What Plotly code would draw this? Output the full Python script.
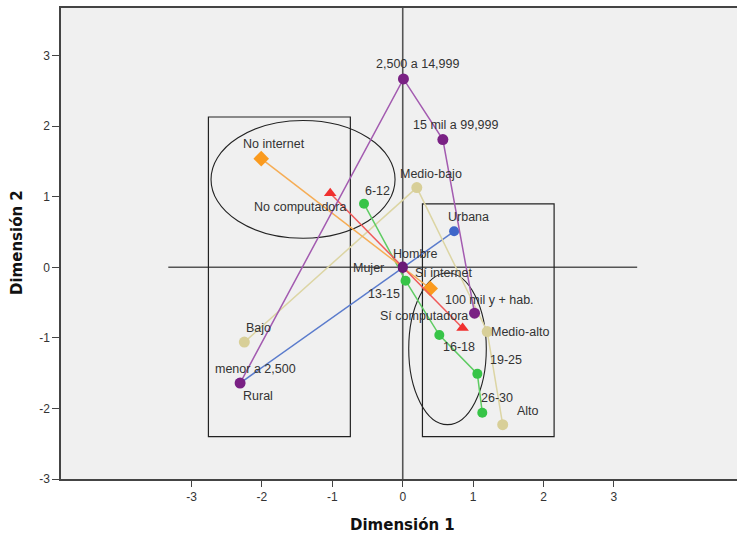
import plotly.graph_objects as go

# ---- Data (Dimension 1, Dimension 2) ----
pob_labels = ["menor a 2,500", "2,500 a 14,999", "15 mil a 99,999", "100 mil y + hab."]
pob_d1 = [-2.31, 0.01, 0.57, 1.02]
pob_d2 = [-1.64, 2.67, 1.81, -0.65]

loc_labels = ["Urbana", "Rural"]
loc_d1 = [0.73, -2.31]
loc_d2 = [0.51, -1.64]

nse_labels = ["Bajo", "Medio-bajo", "Medio-alto", "Alto"]
nse_d1 = [-2.25, 0.20, 1.20, 1.42]
nse_d2 = [-1.06, 1.13, -0.91, -2.23]

edad_labels = ["6-12", "13-15", "16-18", "19-25", "26-30"]
edad_d1 = [-0.55, 0.04, 0.52, 1.06, 1.13]
edad_d2 = [0.90, -0.19, -0.96, -1.51, -2.06]

int_labels = ["No internet", "Sí internet"]
int_d1 = [-2.01, 0.39]
int_d2 = [1.54, -0.30]

comp_labels = ["No computadora", "Sí computadora"]
comp_d1 = [-1.03, 0.85]
comp_d2 = [1.05, -0.86]

sexo_labels = ["Hombre", "Mujer"]
sexo_d1 = [0.0, 0.0]
sexo_d2 = [0.01, -0.01]

x_ticks = [-3, -2, -1, 0, 1, 2, 3]
x_ticktext = ["-3", "-2", "-1", "0", "1", "2", "3"]
y_ticks = [-3, -2, -1, 0, 1, 2, 3]
y_ticktext = ["-3", "-2", "-1", "0", "1", "2", "3"]

# ---- label pixel offsets (styling) ----
offsets = {
    "menor a 2,500": (15, 14), "2,500 a 14,999": (14, 15), "15 mil a 99,999": (13, 15),
    "100 mil y + hab.": (15, 13), "Urbana": (14, 14), "Rural": (18, -13),
    "Bajo": (14, 14), "Medio-bajo": (14, 14), "Medio-alto": (33, 0), "Alto": (25, 14),
    "6-12": (13, 13), "13-15": (-22, -13), "16-18": (20, -12), "19-25": (29, 14),
    "26-30": (15, 15), "No internet": (13, 15), "Sí internet": (14, 15),
    "No computadora": (-30, -14), "Sí computadora": (-39, 12),
    "Hombre": (13, 13), "Mujer": (-34, 0),
}

fig = go.Figure()

series = [
    (loc_labels, loc_d1, loc_d2, "#5a7bcc", "#3f66c9", "circle", 10),
    (nse_labels, nse_d1, nse_d2, "#dcd5a4", "#d8cf98", "circle", 11),
    (edad_labels, edad_d1, edad_d2, "#5fcc63", "#37c447", "circle", 10),
    (int_labels, int_d1, int_d2, "#f6ad55", "#fa9a1e", "diamond", 12),
    (comp_labels, comp_d1, comp_d2, "#f05a5a", "#f0302f", "triangle-up", 11),
    (pob_labels, pob_d1, pob_d2, "#a35bb0", "#7a2184", "circle", 11),
    (sexo_labels, sexo_d1, sexo_d2, "#7a2184", "#6a1a76", "circle", 10),
]

annotations = []
for labels, d1, d2, lc, mc, sym, ms in series:
    fig.add_trace(go.Scatter(
        x=d1, y=d2, mode="lines+markers",
        line=dict(color=lc, width=1.5),
        marker=dict(color=mc, symbol=sym, size=ms, line=dict(width=0)),
        hoverinfo="text", text=labels, showlegend=False,
    ))
    for lab, xv, yv in zip(labels, d1, d2):
        dx, dy = offsets[lab]
        annotations.append(dict(
            x=xv, y=yv, xref="x", yref="y", text=lab, showarrow=False,
            xshift=dx, yshift=dy, xanchor="center", yanchor="middle",
            font=dict(family="Liberation Sans, Arial", size=12.5, color="#333333"),
        ))

# Axis titles
annotations.append(dict(text="<b>Dimensión 1</b>", xref="paper", yref="paper",
                        x=(402 - 61) / 676, y=-(525 - 479) / 471, showarrow=False,
                        xanchor="center", yanchor="middle",
                        font=dict(family="DejaVu Sans", size=15, color="#111111")))
annotations.append(dict(text="<b>Dimensión 2</b>", xref="paper", yref="paper",
                        x=(17 - 61) / 676, y=(479 - 243) / 471, showarrow=False,
                        textangle=-90, xanchor="center", yanchor="middle",
                        font=dict(family="DejaVu Sans", size=15, color="#111111")))

# Reference shapes
shapes = [
    dict(type="line", x0=-3.33, x1=3.33, y0=0, y1=0, xref="x", yref="y",
         line=dict(color="#555555", width=1.6), layer="below"),
    dict(type="line", x0=0, x1=0, y0=0, y1=1, xref="x", yref="paper",
         line=dict(color="#555555", width=1.6), layer="below"),
    dict(type="rect", x0=-2.76, x1=-0.744, y0=-2.40, y1=2.13, xref="x", yref="y",
         line=dict(color="#222222", width=1.2), layer="below"),
    dict(type="rect", x0=0.28, x1=2.15, y0=-2.40, y1=0.90, xref="x", yref="y",
         line=dict(color="#222222", width=1.2), layer="below"),
    dict(type="circle", x0=-1.416 - 1.307, x1=-1.416 + 1.307, y0=1.246 - 0.834, y1=1.246 + 0.834,
         xref="x", yref="y", line=dict(color="#222222", width=1.1), layer="below"),
    dict(type="circle", x0=0.636 - 0.551, x1=0.636 + 0.551, y0=-1.155 - 1.075, y1=-1.155 + 1.075,
         xref="x", yref="y", line=dict(color="#222222", width=1.1), layer="below"),
]

fig.update_layout(
    width=737, height=535,
    margin=dict(l=61, r=0, t=8, b=56),
    paper_bgcolor="white", plot_bgcolor="#f0f0f0",
    annotations=annotations, shapes=shapes,
    font=dict(family="Liberation Sans, Arial", size=12, color="#333333"),
)
fig.update_xaxes(range=[-4.854, 4.748], tickvals=x_ticks, ticktext=x_ticktext,
                 ticks="outside", ticklen=6,
                 tickcolor="#444444", showgrid=False, zeroline=False,
                 showline=True, linecolor="#444444", linewidth=1.5, mirror=True,
                 tickfont=dict(size=12, color="#333333"))
fig.update_yaxes(range=[-3, 3.675], tickvals=y_ticks, ticktext=y_ticktext,
                 ticks="outside", ticklen=7,
                 tickcolor="#444444", showgrid=False, zeroline=False,
                 showline=True, linecolor="#444444", linewidth=1.5, mirror=False,
                 tickfont=dict(size=12, color="#333333"))

fig.write_html("out.html")
